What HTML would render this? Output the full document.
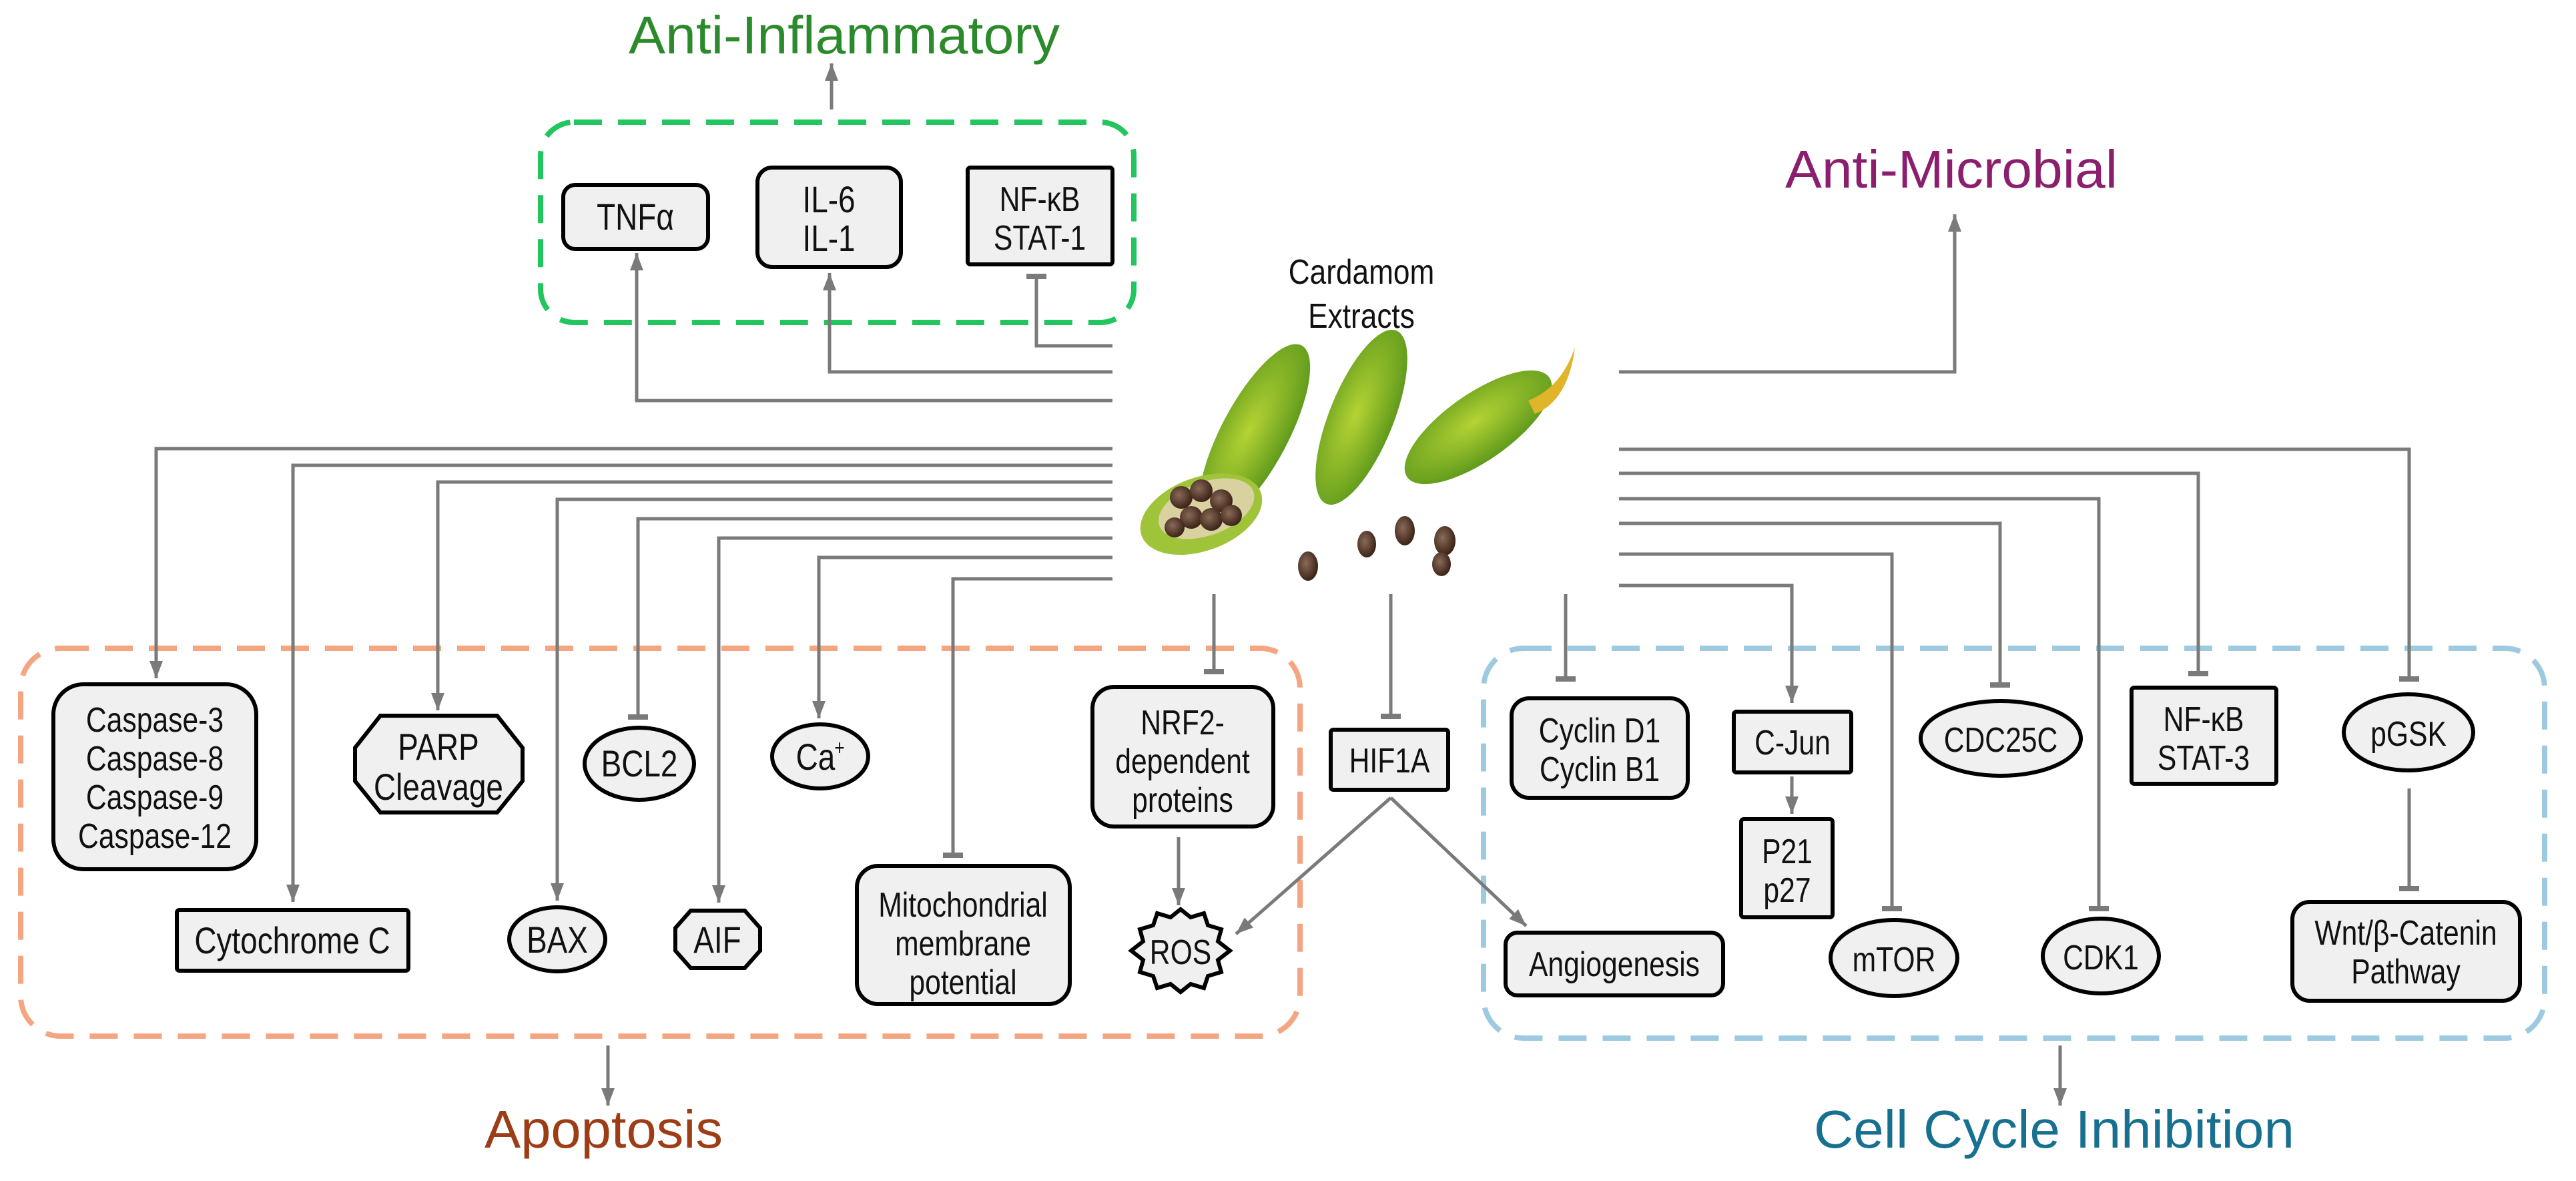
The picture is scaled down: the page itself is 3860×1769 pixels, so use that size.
<!DOCTYPE html>
<html><head><meta charset="utf-8"><style>
html,body{margin:0;padding:0;background:#fff;}
svg{display:block;}
text{font-family:"Liberation Sans",Arial,sans-serif;}
</style></head><body>
<svg width="3860" height="1769" viewBox="0 0 3860 1769" xmlns="http://www.w3.org/2000/svg">
<defs>
<marker id="a" markerUnits="userSpaceOnUse" markerWidth="26" markerHeight="20" refX="26" refY="10" orient="auto"><path d="M0,0 L26,10 L0,20 z" fill="#7a7a7a"/></marker>
<marker id="t" markerUnits="userSpaceOnUse" markerWidth="8" markerHeight="30" refX="4" refY="15" orient="auto"><rect x="0" y="0" width="8" height="30" fill="#7a7a7a"/></marker>
<radialGradient id="pod" cx="50%" cy="40%" r="60%"><stop offset="0" stop-color="#b5d334"/><stop offset="1" stop-color="#5f9a1c"/></radialGradient>
<radialGradient id="seed" cx="40%" cy="40%" r="60%"><stop offset="0" stop-color="#8a6a58"/><stop offset="1" stop-color="#3c2418"/></radialGradient>
</defs>

<!-- titles -->
<text x="942" y="80" font-size="80" fill="#2b8a2b" textLength="646" lengthAdjust="spacingAndGlyphs">Anti-Inflammatory</text>
<text x="2675" y="281" font-size="80" fill="#8b1f6e" textLength="498" lengthAdjust="spacingAndGlyphs">Anti-Microbial</text>
<text x="726" y="1719" font-size="80" fill="#9c3d16" textLength="357" lengthAdjust="spacingAndGlyphs">Apoptosis</text>
<text x="2718" y="1719" font-size="80" fill="#17708f" textLength="720" lengthAdjust="spacingAndGlyphs">Cell Cycle Inhibition</text>

<!-- dashed groups -->
<rect x="810" y="183" width="889" height="300" rx="50" fill="none" stroke="#22c55e" stroke-width="8" stroke-dasharray="42 24"/>
<rect x="31" y="971" width="1917" height="581" rx="60" fill="none" stroke="#f4a582" stroke-width="8" stroke-dasharray="42 24"/>
<rect x="2223" y="971" width="1590" height="584" rx="60" fill="none" stroke="#9ecae1" stroke-width="8" stroke-dasharray="42 24"/>

<!-- connectors -->
<g fill="none" stroke="#7a7a7a" stroke-width="5">
<path d="M1246,164 V95" marker-end="url(#a)"/>
<path d="M1667,600 H954 V379" marker-end="url(#a)"/>
<path d="M1667,557 H1243 V409" marker-end="url(#a)"/>
<path d="M1667,518 H1553 V414" marker-end="url(#t)"/>
<path d="M2426,557 H2929 V321" marker-end="url(#a)"/>

<path d="M1667,672 H234 V1016" marker-end="url(#a)"/>
<path d="M1667,697 H439 V1351" marker-end="url(#a)"/>
<path d="M1667,722 H656 V1064" marker-end="url(#a)"/>
<path d="M1667,748 H835 V1349" marker-end="url(#a)"/>
<path d="M1667,777 H956 V1074" marker-end="url(#t)"/>
<path d="M1667,806 H1077 V1352" marker-end="url(#a)"/>
<path d="M1667,835 H1227 V1076" marker-end="url(#a)"/>
<path d="M1667,867 H1428 V1281" marker-end="url(#t)"/>
<path d="M1819,878 V1006" marker-end="url(#t)"/>
<path d="M2084,878 V1073" marker-end="url(#t)"/>
<path d="M2346,878 V1017" marker-end="url(#t)"/>

<path d="M2426,673 H3610 V1017" marker-end="url(#t)"/>
<path d="M2426,709 H3294 V1009" marker-end="url(#t)"/>
<path d="M2426,747 H3145 V1361" marker-end="url(#t)"/>
<path d="M2426,784 H2997 V1026" marker-end="url(#t)"/>
<path d="M2426,830 H2835 V1361" marker-end="url(#t)"/>
<path d="M2426,877 H2685 V1053" marker-end="url(#a)"/>

<path d="M2685,1163 V1219" marker-end="url(#a)"/>
<path d="M3610,1181 V1331" marker-end="url(#t)"/>
<path d="M1766,1254 V1356" marker-end="url(#a)"/>
<path d="M2084,1195 L1852,1399" marker-end="url(#a)"/>
<path d="M2084,1195 L2287,1387" marker-end="url(#a)"/>
<path d="M911,1566 V1656" marker-end="url(#a)"/>
<path d="M3087,1566 V1656" marker-end="url(#a)"/>
</g>

<!-- cardamom image -->
<g>
<rect x="1680" y="500" width="700" height="390" fill="#fff"/>
<g transform="translate(1880,650) rotate(-62)"><ellipse cx="0" cy="0" rx="150" ry="50" fill="url(#pod)"/></g>
<g transform="translate(2040,625) rotate(-68)"><ellipse cx="0" cy="0" rx="140" ry="48" fill="url(#pod)"/></g>
<g transform="translate(2215,640) rotate(-35)"><ellipse cx="0" cy="0" rx="130" ry="50" fill="url(#pod)"/></g>
<path d="M2290,600 Q2340,580 2360,520 Q2350,600 2300,620 z" fill="#e0b52a"/>
<g transform="translate(1800,770) rotate(-20)"><ellipse cx="0" cy="0" rx="95" ry="55" fill="#9fc43a"/><ellipse cx="10" cy="-5" rx="75" ry="40" fill="#d9d2a0"/></g>
<g fill="url(#seed)">
<circle cx="1770" cy="745" r="17"/><circle cx="1800" cy="735" r="17"/><circle cx="1830" cy="750" r="17"/><circle cx="1785" cy="775" r="17"/><circle cx="1815" cy="778" r="17"/><circle cx="1845" cy="772" r="16"/><circle cx="1760" cy="790" r="15"/>
<ellipse cx="1960" cy="848" rx="15" ry="22"/><ellipse cx="2105" cy="795" rx="15" ry="22"/><ellipse cx="2048" cy="815" rx="14" ry="20"/><ellipse cx="2165" cy="810" rx="16" ry="22"/><ellipse cx="2160" cy="845" rx="14" ry="18"/>
</g>
</g>
<text x="2040" y="425" font-size="52" text-anchor="middle" fill="#111" transform="translate(2040 0) scale(.85 1) translate(-2040 0)">Cardamom</text>
<text x="2040" y="491" font-size="52" text-anchor="middle" fill="#111" transform="translate(2040 0) scale(.85 1) translate(-2040 0)">Extracts</text>

<!-- nodes -->
<g fill="#f0f0f0" stroke="#000" stroke-width="6">
<rect x="844" y="277" width="217" height="96" rx="18"/>
<rect x="1135" y="251" width="215" height="149" rx="22"/>
<rect x="1450" y="251" width="217" height="145" rx="4"/>
<rect x="80" y="1025" width="304" height="277" rx="45"/>
<rect x="265" y="1363" width="347" height="91" rx="4"/>
<polygon points="570,1072 745,1072 783,1120 783,1170 745,1217 570,1217 532,1170 532,1120"/>
<ellipse cx="958" cy="1144" rx="82" ry="54"/>
<ellipse cx="835" cy="1407" rx="72" ry="48"/>
<polygon points="1035,1364 1116,1364 1139,1390 1139,1424 1116,1450 1035,1450 1012,1424 1012,1390"/>
<ellipse cx="1229" cy="1133" rx="72" ry="48"/>
<rect x="1284" y="1297" width="319" height="207" rx="32"/>
<rect x="1637" y="1029" width="271" height="209" rx="32"/>
<polygon points="1769,1362 1784,1374 1804,1368 1810,1386 1830,1392 1825,1410 1843,1424 1825,1438 1830,1456 1810,1462 1804,1480 1784,1474 1769,1486 1754,1474 1734,1480 1728,1462 1708,1456 1713,1438 1695,1424 1713,1410 1708,1392 1728,1386 1734,1368 1754,1374"/>
<rect x="1994" y="1093" width="176" height="90" rx="4"/>
<rect x="2265" y="1046" width="264" height="149" rx="26"/>
<rect x="2598" y="1066" width="176" height="91" rx="4"/>
<rect x="2609" y="1227" width="137" height="147" rx="4"/>
<ellipse cx="2998" cy="1106" rx="120" ry="56"/>
<ellipse cx="2838" cy="1435" rx="95" ry="57"/>
<ellipse cx="3148" cy="1432" rx="87" ry="56"/>
<rect x="3194" y="1030" width="217" height="144" rx="4"/>
<ellipse cx="3609" cy="1097" rx="97" ry="57"/>
<rect x="3435" y="1351" width="341" height="148" rx="26"/>
<rect x="2256" y="1397" width="326" height="94" rx="18"/>
</g>

<g font-size="56" fill="#111" text-anchor="middle">
<g transform="translate(952 344) scale(.82 1)"><text>TNFα</text></g>
<g transform="translate(1242 318) scale(.82 1)"><text>IL-6</text><text y="58">IL-1</text></g>
<g transform="translate(1558 316) scale(.82 1)"><text font-size="52">NF-κB</text><text y="58" font-size="52">STAT-1</text></g>
<g transform="translate(232 1096) scale(.82 1)"><text font-size="52">Caspase-3</text><text y="58" font-size="52">Caspase-8</text><text y="116" font-size="52">Caspase-9</text><text y="174" font-size="52">Caspase-12</text></g>
<g transform="translate(438 1428) scale(.82 1)"><text>Cytochrome C</text></g>
<g transform="translate(657 1138) scale(.82 1)"><text>PARP</text><text y="60">Cleavage</text></g>
<g transform="translate(958 1163) scale(.82 1)"><text>BCL2</text></g>
<g transform="translate(835 1427) scale(.82 1)"><text>BAX</text></g>
<g transform="translate(1075 1427) scale(.82 1)"><text>AIF</text></g>
<g transform="translate(1222 1153) scale(.82 1)"><text>Ca</text><text x="44" y="-22" font-size="32">+</text></g>
<g transform="translate(1443 1373) scale(.82 1)"><text font-size="52">Mitochondrial</text><text y="58" font-size="52">membrane</text><text y="116" font-size="52">potential</text></g>
<g transform="translate(1772 1100) scale(.82 1)"><text font-size="52">NRF2-</text><text y="58" font-size="52">dependent</text><text y="116" font-size="52">proteins</text></g>
<g transform="translate(1769 1444) scale(.82 1)"><text font-size="52">ROS</text></g>
<g transform="translate(2082 1157) scale(.82 1)"><text font-size="52">HIF1A</text></g>
<g transform="translate(2397 1112) scale(.82 1)"><text font-size="52">Cyclin D1</text><text y="58" font-size="52">Cyclin B1</text></g>
<g transform="translate(2686 1130) scale(.82 1)"><text font-size="52">C-Jun</text></g>
<g transform="translate(2678 1293) scale(.82 1)"><text font-size="52">P21</text><text y="58" font-size="52">p27</text></g>
<g transform="translate(2998 1126) scale(.82 1)"><text font-size="52">CDC25C</text></g>
<g transform="translate(2838 1455) scale(.82 1)"><text font-size="52">mTOR</text></g>
<g transform="translate(3148 1452) scale(.82 1)"><text font-size="52">CDK1</text></g>
<g transform="translate(3302 1095) scale(.82 1)"><text font-size="52">NF-κB</text><text y="58" font-size="52">STAT-3</text></g>
<g transform="translate(3609 1117) scale(.82 1)"><text font-size="52">pGSK</text></g>
<g transform="translate(3605 1415) scale(.82 1)"><text font-size="52">Wnt/β-Catenin</text><text y="58" font-size="52">Pathway</text></g>
<g transform="translate(2419 1462) scale(.82 1)"><text font-size="52">Angiogenesis</text></g>
</g>
</svg>
</body></html>
